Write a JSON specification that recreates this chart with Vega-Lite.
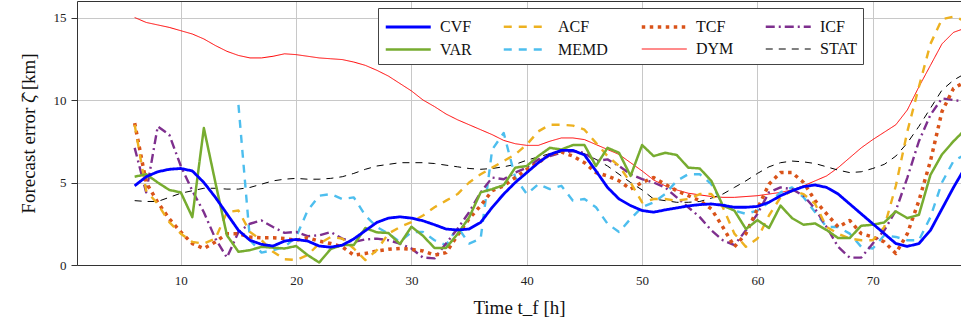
{
  "$schema": "https://vega.github.io/schema/vega-lite/v6.json",
  "width": 884,
  "height": 264,
  "autosize": {"type": "none"},
  "padding": {"left": 77, "top": 1, "right": 0, "bottom": 66},
  "config": {
    "view": {"stroke": null},
    "font": "Liberation Serif",
    "axis": {"gridColor": "#c8c8c8", "gridWidth": 1, "domainColor": "#333333", "tickColor": "#333333", "labelFont": "Liberation Serif", "labelFontSize": 13, "labelColor": "#222222", "titleFont": "Liberation Serif", "titleFontSize": 19, "titleFontWeight": "normal", "titleColor": "#111111"}
  },
  "datasets": {
    "d": [
      {"t":6,"CVF":4.8,"VAR":5.35,"ACF":8.5,"MEMD":null,"TCF":8.6,"DYM":15.0,"ICF":7.1,"STAT":3.9},
      {"t":7,"CVF":5.35,"VAR":5.5,"ACF":4.5,"MEMD":null,"TCF":5.0,"DYM":14.7,"ICF":4.4,"STAT":3.85},
      {"t":8,"CVF":5.65,"VAR":5.0,"ACF":3.7,"MEMD":null,"TCF":3.8,"DYM":14.55,"ICF":8.4,"STAT":3.85},
      {"t":9,"CVF":5.8,"VAR":4.55,"ACF":2.6,"MEMD":null,"TCF":2.8,"DYM":14.4,"ICF":7.9,"STAT":4.1},
      {"t":10,"CVF":5.85,"VAR":4.4,"ACF":1.9,"MEMD":null,"TCF":2.0,"DYM":14.2,"ICF":6.0,"STAT":4.35},
      {"t":11,"CVF":5.7,"VAR":2.9,"ACF":1.4,"MEMD":null,"TCF":1.3,"DYM":14.0,"ICF":4.5,"STAT":4.5},
      {"t":12,"CVF":5.0,"VAR":8.3,"ACF":1.3,"MEMD":null,"TCF":1.0,"DYM":13.7,"ICF":3.2,"STAT":4.65},
      {"t":13,"CVF":4.1,"VAR":5.0,"ACF":1.6,"MEMD":null,"TCF":1.4,"DYM":13.3,"ICF":1.6,"STAT":4.65},
      {"t":14,"CVF":3.1,"VAR":1.8,"ACF":3.2,"MEMD":null,"TCF":1.9,"DYM":12.95,"ICF":0.45,"STAT":4.6},
      {"t":15,"CVF":2.1,"VAR":0.8,"ACF":3.3,"MEMD":9.7,"TCF":1.9,"DYM":12.7,"ICF":2.0,"STAT":4.6},
      {"t":16,"CVF":1.5,"VAR":0.9,"ACF":2.0,"MEMD":1.5,"TCF":1.7,"DYM":12.55,"ICF":2.5,"STAT":4.7},
      {"t":17,"CVF":1.25,"VAR":1.1,"ACF":1.5,"MEMD":0.75,"TCF":1.65,"DYM":12.55,"ICF":2.7,"STAT":4.9},
      {"t":18,"CVF":1.15,"VAR":1.05,"ACF":0.8,"MEMD":0.9,"TCF":1.65,"DYM":12.65,"ICF":2.3,"STAT":5.1},
      {"t":19,"CVF":1.45,"VAR":1.0,"ACF":0.35,"MEMD":1.1,"TCF":1.6,"DYM":12.8,"ICF":1.95,"STAT":5.2},
      {"t":20,"CVF":1.55,"VAR":1.15,"ACF":0.3,"MEMD":1.7,"TCF":1.5,"DYM":12.75,"ICF":2.0,"STAT":5.25},
      {"t":21,"CVF":1.45,"VAR":0.6,"ACF":0.6,"MEMD":3.3,"TCF":1.65,"DYM":12.65,"ICF":1.75,"STAT":5.2},
      {"t":22,"CVF":1.15,"VAR":0.15,"ACF":1.3,"MEMD":4.2,"TCF":1.45,"DYM":12.55,"ICF":1.8,"STAT":5.2},
      {"t":23,"CVF":1.08,"VAR":0.97,"ACF":1.7,"MEMD":4.3,"TCF":1.3,"DYM":12.5,"ICF":2.0,"STAT":5.25},
      {"t":24,"CVF":1.2,"VAR":1.21,"ACF":1.6,"MEMD":4.0,"TCF":1.1,"DYM":12.45,"ICF":1.6,"STAT":5.35},
      {"t":25,"CVF":1.58,"VAR":1.21,"ACF":1.0,"MEMD":4.1,"TCF":0.6,"DYM":12.3,"ICF":1.4,"STAT":5.55},
      {"t":26,"CVF":2.08,"VAR":2.24,"ACF":0.3,"MEMD":3.0,"TCF":0.7,"DYM":12.1,"ICF":1.55,"STAT":5.8},
      {"t":27,"CVF":2.58,"VAR":1.98,"ACF":0.9,"MEMD":2.3,"TCF":0.85,"DYM":11.8,"ICF":1.6,"STAT":6.0},
      {"t":28,"CVF":2.84,"VAR":1.94,"ACF":1.9,"MEMD":1.9,"TCF":0.95,"DYM":11.45,"ICF":1.5,"STAT":6.1},
      {"t":29,"CVF":2.92,"VAR":1.27,"ACF":2.3,"MEMD":1.4,"TCF":1.0,"DYM":11.0,"ICF":1.3,"STAT":6.2},
      {"t":30,"CVF":2.84,"VAR":2.32,"ACF":2.6,"MEMD":2.0,"TCF":0.95,"DYM":10.55,"ICF":1.0,"STAT":6.2},
      {"t":31,"CVF":2.68,"VAR":1.77,"ACF":3.0,"MEMD":2.0,"TCF":0.85,"DYM":10.0,"ICF":0.45,"STAT":6.2},
      {"t":32,"CVF":2.44,"VAR":1.03,"ACF":3.5,"MEMD":1.5,"TCF":0.6,"DYM":9.6,"ICF":0.4,"STAT":6.15},
      {"t":33,"CVF":2.18,"VAR":1.03,"ACF":3.9,"MEMD":1.2,"TCF":0.75,"DYM":9.15,"ICF":1.3,"STAT":6.05},
      {"t":34,"CVF":2.12,"VAR":1.88,"ACF":4.3,"MEMD":2.3,"TCF":1.8,"DYM":8.8,"ICF":2.2,"STAT":5.95},
      {"t":35,"CVF":2.18,"VAR":2.88,"ACF":5.0,"MEMD":1.3,"TCF":2.8,"DYM":8.5,"ICF":3.2,"STAT":5.85},
      {"t":36,"CVF":2.58,"VAR":4.4,"ACF":5.5,"MEMD":1.6,"TCF":3.6,"DYM":8.2,"ICF":4.4,"STAT":5.8},
      {"t":37,"CVF":3.49,"VAR":4.6,"ACF":5.9,"MEMD":7.0,"TCF":4.5,"DYM":7.9,"ICF":5.3,"STAT":5.85},
      {"t":38,"CVF":4.3,"VAR":4.84,"ACF":6.3,"MEMD":8.0,"TCF":4.8,"DYM":7.55,"ICF":5.2,"STAT":5.95},
      {"t":39,"CVF":5.0,"VAR":5.9,"ACF":6.7,"MEMD":5.3,"TCF":5.3,"DYM":7.35,"ICF":5.6,"STAT":6.1},
      {"t":40,"CVF":5.6,"VAR":6.0,"ACF":7.3,"MEMD":4.3,"TCF":5.8,"DYM":7.25,"ICF":5.9,"STAT":6.35},
      {"t":41,"CVF":6.2,"VAR":6.6,"ACF":8.1,"MEMD":4.9,"TCF":6.2,"DYM":7.25,"ICF":6.4,"STAT":6.55},
      {"t":42,"CVF":6.7,"VAR":7.1,"ACF":8.5,"MEMD":4.6,"TCF":6.7,"DYM":7.5,"ICF":6.6,"STAT":6.75},
      {"t":43,"CVF":6.95,"VAR":7.0,"ACF":8.5,"MEMD":4.8,"TCF":6.85,"DYM":7.7,"ICF":6.8,"STAT":6.85},
      {"t":44,"CVF":6.95,"VAR":7.27,"ACF":8.45,"MEMD":3.9,"TCF":6.6,"DYM":7.7,"ICF":6.9,"STAT":6.9},
      {"t":45,"CVF":6.67,"VAR":7.27,"ACF":8.2,"MEMD":4.0,"TCF":6.2,"DYM":7.6,"ICF":6.8,"STAT":6.75},
      {"t":46,"CVF":5.7,"VAR":6.0,"ACF":7.4,"MEMD":3.5,"TCF":5.6,"DYM":7.3,"ICF":6.3,"STAT":6.4},
      {"t":47,"CVF":4.7,"VAR":7.1,"ACF":6.6,"MEMD":2.5,"TCF":5.4,"DYM":7.0,"ICF":6.4,"STAT":6.0},
      {"t":48,"CVF":4.0,"VAR":6.8,"ACF":6.0,"MEMD":2.0,"TCF":5.1,"DYM":6.7,"ICF":6.0,"STAT":5.5},
      {"t":49,"CVF":3.6,"VAR":5.4,"ACF":5.0,"MEMD":2.8,"TCF":4.6,"DYM":6.2,"ICF":5.5,"STAT":5.0},
      {"t":50,"CVF":3.3,"VAR":7.27,"ACF":3.8,"MEMD":3.5,"TCF":5.0,"DYM":5.7,"ICF":5.2,"STAT":4.55},
      {"t":51,"CVF":3.2,"VAR":6.6,"ACF":4.0,"MEMD":3.8,"TCF":5.3,"DYM":5.15,"ICF":5.0,"STAT":4.0},
      {"t":52,"CVF":3.34,"VAR":6.8,"ACF":4.0,"MEMD":4.3,"TCF":4.9,"DYM":4.8,"ICF":4.7,"STAT":3.9},
      {"t":53,"CVF":3.46,"VAR":6.67,"ACF":3.9,"MEMD":5.1,"TCF":4.5,"DYM":4.55,"ICF":4.1,"STAT":3.8},
      {"t":54,"CVF":3.58,"VAR":5.9,"ACF":4.0,"MEMD":5.5,"TCF":4.2,"DYM":4.35,"ICF":3.5,"STAT":3.8},
      {"t":55,"CVF":3.66,"VAR":5.85,"ACF":4.3,"MEMD":5.5,"TCF":3.9,"DYM":4.25,"ICF":2.9,"STAT":3.85},
      {"t":56,"CVF":3.7,"VAR":5.1,"ACF":4.3,"MEMD":4.9,"TCF":3.4,"DYM":4.15,"ICF":2.1,"STAT":4.05},
      {"t":57,"CVF":3.62,"VAR":3.6,"ACF":3.5,"MEMD":3.7,"TCF":2.3,"DYM":4.1,"ICF":1.5,"STAT":4.3},
      {"t":58,"CVF":3.5,"VAR":3.3,"ACF":1.9,"MEMD":3.3,"TCF":1.1,"DYM":4.1,"ICF":1.2,"STAT":4.7},
      {"t":59,"CVF":3.5,"VAR":2.18,"ACF":1.1,"MEMD":3.1,"TCF":1.9,"DYM":4.15,"ICF":2.1,"STAT":5.1},
      {"t":60,"CVF":3.55,"VAR":2.72,"ACF":1.6,"MEMD":3.3,"TCF":3.4,"DYM":4.2,"ICF":3.1,"STAT":5.55},
      {"t":61,"CVF":3.8,"VAR":2.24,"ACF":3.0,"MEMD":3.8,"TCF":4.9,"DYM":4.3,"ICF":4.4,"STAT":5.95},
      {"t":62,"CVF":4.2,"VAR":3.6,"ACF":4.1,"MEMD":4.4,"TCF":5.6,"DYM":4.4,"ICF":4.7,"STAT":6.2},
      {"t":63,"CVF":4.5,"VAR":2.84,"ACF":4.5,"MEMD":4.7,"TCF":5.6,"DYM":4.55,"ICF":4.6,"STAT":6.3},
      {"t":64,"CVF":4.75,"VAR":2.44,"ACF":4.3,"MEMD":4.1,"TCF":5.0,"DYM":4.8,"ICF":4.2,"STAT":6.25},
      {"t":65,"CVF":4.85,"VAR":2.52,"ACF":3.7,"MEMD":3.2,"TCF":3.9,"DYM":5.1,"ICF":3.4,"STAT":6.15},
      {"t":66,"CVF":4.7,"VAR":2.12,"ACF":2.3,"MEMD":2.3,"TCF":3.1,"DYM":5.4,"ICF":2.3,"STAT":5.95},
      {"t":67,"CVF":4.3,"VAR":1.63,"ACF":1.9,"MEMD":2.3,"TCF":2.3,"DYM":5.9,"ICF":1.1,"STAT":5.75},
      {"t":68,"CVF":3.7,"VAR":1.63,"ACF":1.6,"MEMD":1.9,"TCF":2.7,"DYM":6.5,"ICF":0.45,"STAT":5.6},
      {"t":69,"CVF":3.1,"VAR":2.38,"ACF":1.5,"MEMD":1.1,"TCF":1.9,"DYM":7.1,"ICF":0.45,"STAT":5.65},
      {"t":70,"CVF":2.5,"VAR":2.44,"ACF":1.5,"MEMD":1.0,"TCF":1.7,"DYM":7.6,"ICF":1.3,"STAT":5.85},
      {"t":71,"CVF":1.9,"VAR":2.58,"ACF":2.3,"MEMD":1.8,"TCF":1.4,"DYM":8.05,"ICF":2.1,"STAT":6.1},
      {"t":72,"CVF":1.3,"VAR":3.25,"ACF":4.8,"MEMD":1.7,"TCF":0.7,"DYM":8.5,"ICF":3.3,"STAT":6.6},
      {"t":73,"CVF":1.13,"VAR":2.84,"ACF":8.1,"MEMD":1.5,"TCF":1.9,"DYM":9.4,"ICF":5.3,"STAT":7.4},
      {"t":74,"CVF":1.3,"VAR":3.04,"ACF":10.8,"MEMD":1.5,"TCF":3.9,"DYM":10.8,"ICF":7.5,"STAT":8.4},
      {"t":75,"CVF":2.1,"VAR":5.46,"ACF":13.4,"MEMD":2.9,"TCF":6.3,"DYM":12.1,"ICF":9.1,"STAT":9.5},
      {"t":76,"CVF":3.4,"VAR":6.7,"ACF":14.9,"MEMD":5.0,"TCF":9.3,"DYM":13.4,"ICF":10.1,"STAT":10.6},
      {"t":77,"CVF":4.7,"VAR":7.5,"ACF":15.05,"MEMD":6.3,"TCF":10.7,"DYM":14.1,"ICF":10.0,"STAT":11.2},
      {"t":78,"CVF":5.9,"VAR":8.2,"ACF":14.8,"MEMD":6.7,"TCF":11.1,"DYM":14.35,"ICF":9.9,"STAT":11.6}
    ]
  },
  "layer": [
    {
      "data": {"name": "d"},
      "transform": [{"fold": ["DYM", "STAT", "MEMD", "ICF", "TCF", "ACF", "VAR", "CVF"], "as": ["s", "v"]}],
      "mark": {"type": "line", "clip": true, "strokeCap": "butt", "strokeJoin": "round"},
      "encoding": {
        "x": {"field": "t", "type": "quantitative", "scale": {"domain": [1, 77.65], "nice": false, "zero": false},
              "axis": {"values": [10, 20, 30, 40, 50, 60, 70], "ticks": false, "labelPadding": 9, "title": "Time t_f [h]", "titlePadding": 11, "grid": true}},
        "y": {"field": "v", "type": "quantitative", "scale": {"domain": [0, 16], "nice": false},
              "axis": {"values": [0, 5, 10, 15], "tickSize": 6, "labelPadding": 5, "title": "Forecast error ζ̂ [km]", "titlePadding": 15, "grid": true}},
        "color": {"field": "s", "type": "nominal",
                  "scale": {"domain": ["CVF", "VAR", "ACF", "MEMD", "TCF", "DYM", "ICF", "STAT"],
                            "range": ["#0000FF", "#77AC30", "#EDB120", "#4DBEEE", "#D95319", "#FF0000", "#7E2F8E", "#000000"]},
                  "legend": {"title": null, "orient": "none", "legendX": 301, "legendY": 7, "columns": 4, "columnPadding": 26, "rowPadding": 2,
                             "symbolType": "M-1,0H3", "symbolSize": 506, "labelOffset": 30, "labelFontSize": 16, "labelFont": "Liberation Serif", "labelColor": "#111111",
                             "padding": 6, "strokeColor": "#444444", "fillColor": "#ffffff", "gridAlign": "each"}},
        "strokeDash": {"field": "s", "type": "nominal",
                       "scale": {"domain": ["CVF", "VAR", "ACF", "MEMD", "TCF", "DYM", "ICF", "STAT"],
                                 "range": [[1, 0], [1, 0], [8, 7], [8, 7], [3.5, 4.5], [1, 0], [9, 4, 2, 4], [7, 6]]}},
        "strokeWidth": {"field": "s", "type": "nominal",
                        "scale": {"type": "ordinal", "domain": ["CVF", "VAR", "ACF", "MEMD", "TCF", "DYM", "ICF", "STAT"],
                                  "range": [2.8, 2.5, 2.4, 2.4, 3.5, 1, 2.4, 1]}},
        "order": {"field": "t", "type": "quantitative"}
      }
    },
    {
      "data": {"values": [{}]},
      "mark": {"type": "rule", "opacity": 0},
      "encoding": {
        "x": {"datum": 10, "type": "quantitative",
              "axis": {"orient": "top", "labels": false, "ticks": false, "grid": false, "title": null, "domain": true}}
      }
    }
  ],
  "resolve": {"axis": {"x": "independent"}}
}
